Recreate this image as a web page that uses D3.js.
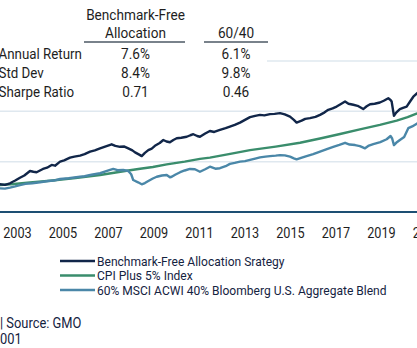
<!DOCTYPE html>
<html>
<head>
<meta charset="utf-8">
<title>Benchmark-Free Allocation</title>
<script src="https://cdn.jsdelivr.net/npm/d3@7"></script>
<style>
  html,body{margin:0;padding:0;background:#fff;overflow:hidden}
  svg{display:block;font-family:Roboto,"Liberation Sans",sans-serif}
  .grid line{stroke:#dfe8ef;stroke-width:1.5}
  .series{fill:none;stroke-width:2.4;stroke-linejoin:round;stroke-linecap:round}
</style>
</head>
<body>
<svg width="417" height="348"></svg>
<script>
// ---- data -------------------------------------------------------------
const years = [2003,2005,2007,2009,2011,2013,2015,2017,2019,2021];
const gridValues = [2,4,6];

const statRows   = ['Annual Return','Std Dev','Sharpe Ratio'];
const statHeads  = [['Benchmark-Free','Allocation'],['60/40']];
const bfaStats   = ['7.6%','8.4%','0.71'];
const blendStats = ['6.1%','9.8%','0.46'];

const seriesNames = [
  'Benchmark-Free Allocation Srategy',
  'CPI Plus 5% Index',
  '60% MSCI ACWI 40% Bloomberg U.S. Aggregate Blend'
];
const seriesColors = ['#112649','#3a8d6c','#4a87a8'];

// growth of $1, [decimal year, value]
const benchmarkFree = [
  [2002.7,1.06],[2002.88,1.10],[2003.1,1.08],[2003.32,1.14],[2003.55,1.25],[2003.76,1.36],
  [2003.95,1.45],[2004.2,1.63],[2004.35,1.60],[2004.49,1.58],[2004.77,1.71],[2004.95,1.76],
  [2005.15,1.87],[2005.3,1.84],[2005.52,2.00],[2005.7,2.05],[2005.96,2.16],[2006.15,2.20],
  [2006.4,2.24],[2006.6,2.30],[2006.84,2.40],[2007.05,2.45],[2007.28,2.53],[2007.5,2.60],
  [2007.79,2.69],[2007.95,2.63],[2008.16,2.59],[2008.35,2.60],[2008.52,2.53],[2008.7,2.45],
  [2008.82,2.37],[2009.0,2.28],[2009.11,2.22],[2009.25,2.35],[2009.4,2.46],[2009.55,2.52],
  [2009.69,2.63],[2009.9,2.74],[2010.06,2.86],[2010.2,2.80],[2010.35,2.77],[2010.5,2.86],
  [2010.65,2.93],[2010.85,2.95],[2011.09,2.99],[2011.25,3.05],[2011.38,3.09],[2011.55,3.02],
  [2011.67,2.99],[2011.9,3.12],[2012.11,3.22],[2012.3,3.18],[2012.55,3.26],[2012.8,3.33],
  [2012.99,3.39],[2013.2,3.46],[2013.43,3.55],[2013.65,3.66],[2013.87,3.77],[2014.1,3.82],
  [2014.31,3.86],[2014.5,3.84],[2014.75,3.89],[2014.95,3.90],[2015.19,3.93],[2015.4,3.88],
  [2015.63,3.79],[2015.8,3.66],[2015.92,3.55],[2016.14,3.63],[2016.3,3.70],[2016.51,3.73],
  [2016.75,3.78],[2016.95,3.86],[2017.15,3.96],[2017.31,4.06],[2017.5,4.12],[2017.68,4.19],
  [2017.85,4.28],[2018.05,4.39],[2018.2,4.30],[2018.41,4.26],[2018.6,4.22],[2018.85,4.09],
  [2019.0,4.20],[2019.15,4.28],[2019.35,4.30],[2019.58,4.35],[2019.75,4.42],[2019.95,4.52],
  [2020.05,4.45],[2020.1,4.39],[2020.2,3.82],[2020.3,3.95],[2020.46,4.09],[2020.6,4.14],
  [2020.76,4.19],[2020.9,4.38],[2021.05,4.58],[2021.22,4.72],[2021.4,4.85]
];

const cpiPlus5 = [
  [2002.7,1.05],[2002.88,1.07],[2003.5,1.11],[2004.2,1.17],[2005.08,1.24],[2006.2,1.35],
  [2007.28,1.47],[2008.45,1.64],[2009.04,1.72],[2009.6,1.79],[2010.21,1.89],[2011.0,2.00],
  [2011.67,2.11],[2012.11,2.16],[2013.0,2.31],[2013.87,2.46],[2015.0,2.60],[2016.07,2.75],
  [2017.0,2.93],[2017.83,3.10],[2018.7,3.28],[2019.58,3.46],[2020.32,3.63],[2020.8,3.77],
  [2021.22,3.92],[2021.4,3.99]
];

const blend6040 = [
  [2002.7,0.93],[2002.88,0.94],[2003.1,0.93],[2003.32,0.97],[2003.55,1.02],[2003.76,1.07],
  [2004.0,1.12],[2004.3,1.14],[2004.64,1.18],[2005.0,1.23],[2005.25,1.25],[2005.52,1.31],
  [2005.9,1.34],[2006.4,1.40],[2006.6,1.42],[2006.9,1.48],[2007.28,1.54],[2007.55,1.62],
  [2007.86,1.71],[2008.05,1.66],[2008.3,1.67],[2008.52,1.63],[2008.65,1.50],[2008.74,1.27],
  [2008.95,1.18],[2009.11,1.10],[2009.25,1.15],[2009.4,1.23],[2009.6,1.33],[2009.77,1.40],
  [2010.0,1.45],[2010.21,1.47],[2010.35,1.38],[2010.43,1.40],[2010.6,1.49],[2010.8,1.58],
  [2011.0,1.65],[2011.23,1.71],[2011.45,1.70],[2011.67,1.60],[2011.9,1.70],[2012.11,1.80],
  [2012.35,1.72],[2012.55,1.74],[2012.8,1.82],[2012.99,1.91],[2013.2,1.95],[2013.43,2.00],
  [2013.65,2.02],[2013.87,2.07],[2014.1,2.12],[2014.31,2.17],[2014.55,2.20],[2014.75,2.22],
  [2015.0,2.24],[2015.19,2.26],[2015.4,2.25],[2015.63,2.20],[2015.8,2.13],[2015.92,2.09],
  [2016.15,2.16],[2016.36,2.22],[2016.65,2.30],[2016.95,2.40],[2017.25,2.50],[2017.53,2.59],
  [2017.8,2.67],[2018.05,2.75],[2018.25,2.68],[2018.49,2.66],[2018.7,2.62],[2018.93,2.53],
  [2019.1,2.64],[2019.29,2.70],[2019.6,2.78],[2019.88,2.89],[2020.05,3.02],[2020.12,2.92],
  [2020.2,2.66],[2020.3,2.75],[2020.46,2.86],[2020.65,2.98],[2020.83,3.33],[2021.0,3.40],
  [2021.22,3.52],[2021.4,3.60]
];

const footNotes = ['| Source: GMO','2001'];

// ---- helpers ----------------------------------------------------------
const SX = 0.92; // narrow the face horizontally
const toDate = y => {
  const yr = Math.floor(y);
  return new Date(yr, 0, 1 + Math.round((y - yr) * 365));
};
function label(g, x, y, str, size, anchor, fill) {
  return g.append('text')
    .attr('transform', `translate(${x},${y}) scale(${SX},1)`)
    .attr('text-anchor', anchor || 'start')
    .style('font-size', size + 'px')
    .attr('fill', fill || '#1e1e1e')
    .text(str);
}

// ---- scales -----------------------------------------------------------
const svg = d3.select('svg');
const x = d3.scaleTime()
  .domain([new Date(2003,0,1), new Date(2021,0,1)])
  .range([2.7, 412.2]);
const y = d3.scaleLinear().domain([0,6]).range([212, 61]);

// gridlines
svg.append('g').attr('class','grid')
  .selectAll('line').data(gridValues).join('line')
  .attr('x1', -5).attr('x2', 422)
  .attr('y1', d => y(d)).attr('y2', d => y(d));

// series, strategy drawn last so it sits on top
const line = d3.line()
  .x(d => x(toDate(d[0])))
  .y(d => y(d[1]));
[[cpiPlus5,1],[blend6040,2],[benchmarkFree,0]].forEach(([s, idx]) => {
  svg.append('path').attr('class','series')
    .attr('stroke', seriesColors[idx])
    .attr('d', line(s));
});

// baseline
svg.append('line')
  .attr('x1', -5).attr('x2', 422)
  .attr('y1', y(0)).attr('y2', y(0))
  .attr('stroke', '#1d4f73').attr('stroke-width', 2);

// x axis labels
const xAxis = d3.axisBottom(x)
  .tickValues(years.map(d => new Date(d,0,1)))
  .tickFormat(d3.timeFormat('%Y'))
  .tickSize(0);
const gx = svg.append('g').attr('transform', `translate(0,${y(0)})`).call(xAxis);
gx.select('.domain').remove();
gx.selectAll('text')
  .attr('y', null).attr('dy', null)
  .attr('transform', `translate(0,25.5) scale(${SX},1)`)
  .attr('text-anchor', 'start')
  .attr('fill', '#1e1e1e')
  .style('font-size', '13.8px')
  .style('font-family', 'Roboto');

// ---- stats table ------------------------------------------------------
svg.append('rect').attr('x', -5).attr('y', 0).attr('width', 272).attr('height', 102).attr('fill', '#fff');
const t = svg.append('g');
const colX = [135.5, 236];
const ulines = [[84,185],[204,268]];
statHeads.forEach((h, c) => {
  h.slice().reverse().forEach((s, k) => label(t, colX[c], 37.5 - k*18, s, 14.8, 'middle'));
  t.append('line').attr('x1', ulines[c][0]).attr('x2', ulines[c][1])
    .attr('y1', 42).attr('y2', 42)
    .attr('stroke', '#4d5965').attr('stroke-width', 1.5);
});
statRows.forEach((r, i) => {
  const by = 59 + i*19;
  label(t, -1.5, by, r, 14.5);
  label(t, colX[0], by, bfaStats[i], 14.8, 'middle');
  label(t, colX[1], by, blendStats[i], 14.8, 'middle');
});

// ---- legend -----------------------------------------------------------
const lg = svg.append('g');
const legY = [261, 275.5, 290];
seriesNames.forEach((n, i) => {
  lg.append('line').attr('x1', 60).attr('x2', 95)
    .attr('y1', legY[i]).attr('y2', legY[i])
    .attr('stroke', seriesColors[i]).attr('stroke-width', 2.5);
  label(lg, 97, legY[i] + 4.8, n, 13.1, 'start', '#15233f');
});

// ---- footnotes --------------------------------------------------------
label(svg, 0, 328, footNotes[0], 14, 'start', '#15233f');
label(svg, -7.2, 343.5, footNotes[1], 14, 'start', '#15233f');
</script>
</body>
</html>
